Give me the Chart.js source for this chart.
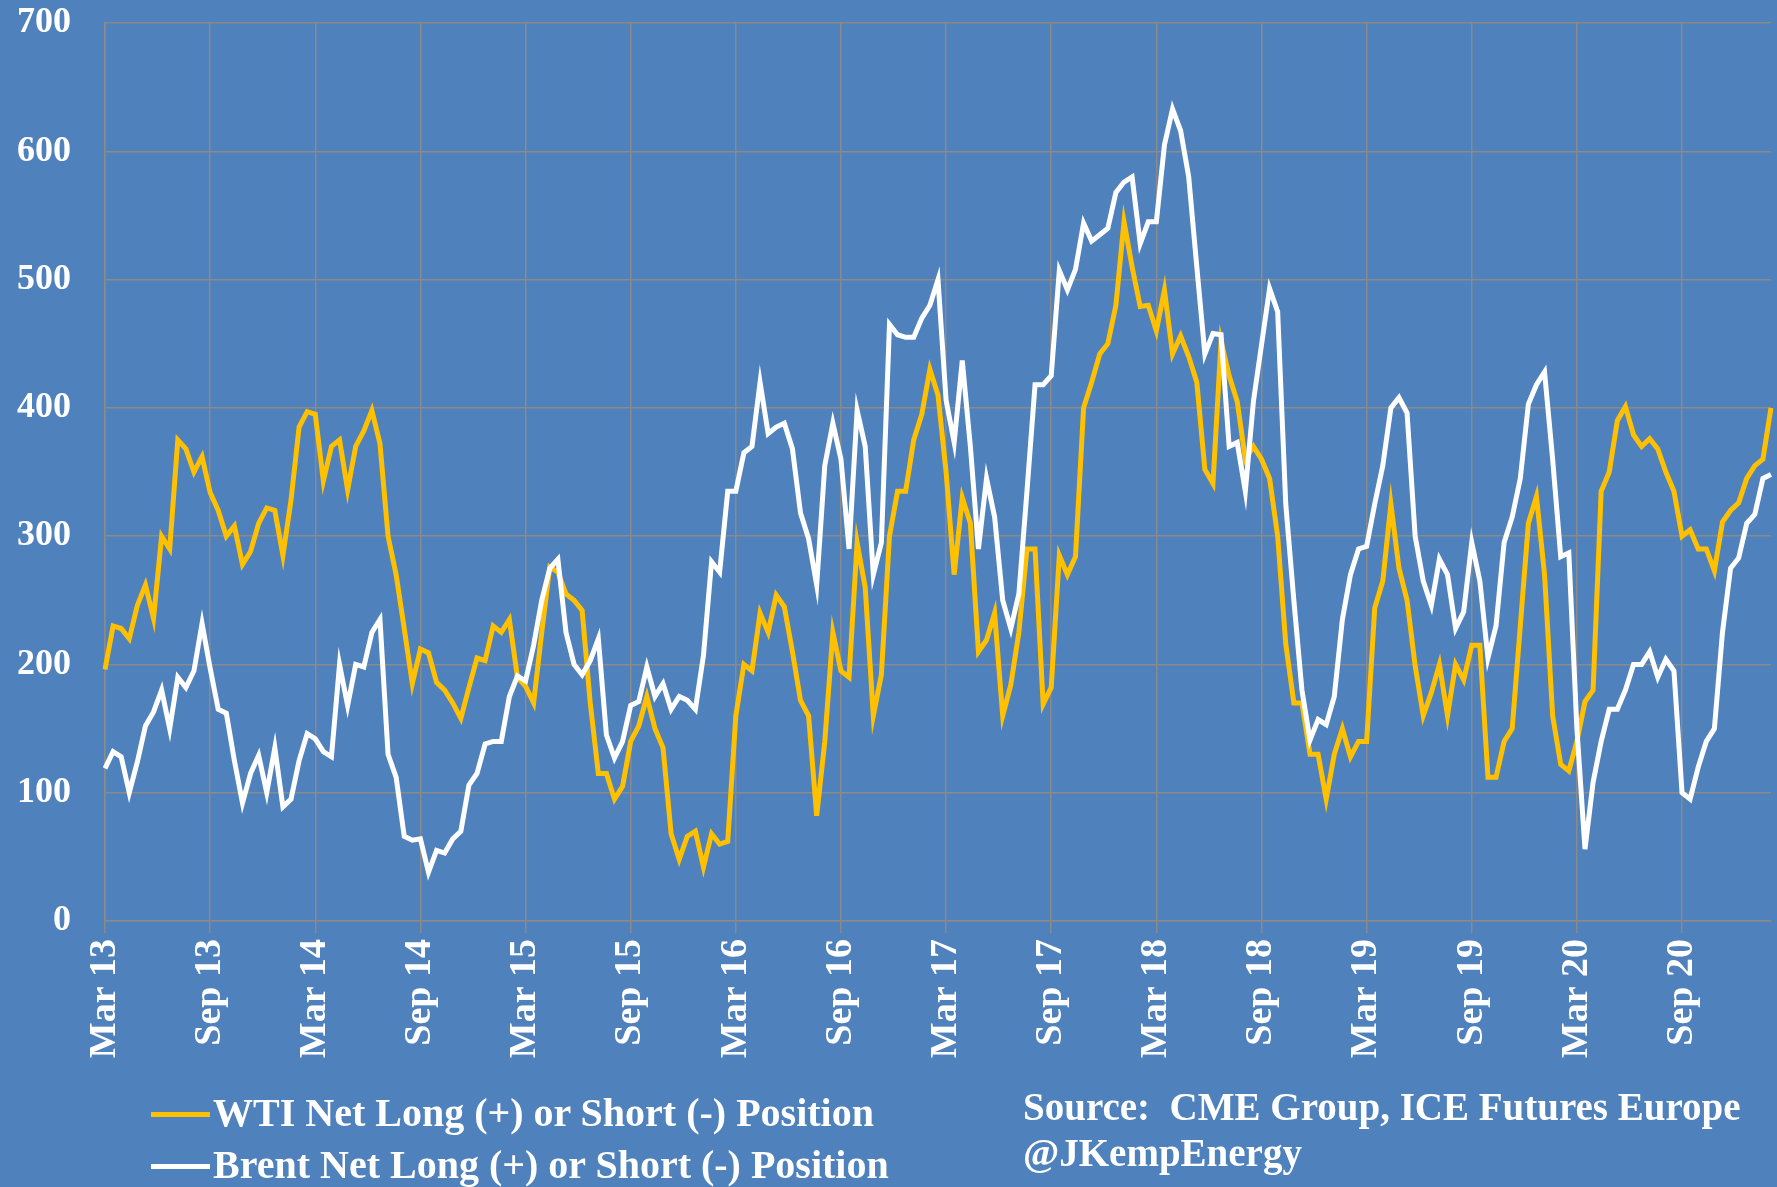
<!DOCTYPE html>
<html>
<head>
<meta charset="utf-8">
<script src="https://cdn.jsdelivr.net/npm/chart.js@4"></script>
<style>
    html, body { margin: 0; padding: 0; background: #4f81bd; overflow: hidden; }
    #wrap { position: relative; width: 1777px; height: 1187px; }
    #positions_chart { position: absolute; left: 0; top: 0; }
    .note { position: absolute; color: #fff; font-family: 'Liberation Serif', 'DejaVu Serif', serif; font-size: 39px; font-weight: bold; line-height: 1; white-space: nowrap; }
    .legend { font-size: 40px; }
    .key { display: inline-block; width: 59px; height: 5px; vertical-align: middle; margin-right: 3px; position: relative; top: -2px; }
</style>
</head>
<body>
<div id="wrap">
    <canvas id="positions_chart" width="1777" height="1187"></canvas>
    <div class="note legend" style="left:151px; top:1093px;"><span class="key" style="background:#ffc000"></span>WTI Net Long (+) or Short (-) Position</div>
    <div class="note legend" style="left:151px; top:1145px;"><span class="key" style="background:#ffffff"></span>Brent Net Long (+) or Short (-) Position</div>
    <div class="note" style="left:1023px; top:1087px;">Source:&nbsp; CME Group, ICE Futures Europe</div>
    <div class="note" style="left:1023px; top:1133px;">@JKempEnergy</div>
</div>
<script>
// fortnightly readings, Mar 2013 to early 2021 (million barrels)
const tickLabels = ['Mar 13', 'Sep 13', 'Mar 14', 'Sep 14', 'Mar 15', 'Sep 15', 'Mar 16', 'Sep 16',
    'Mar 17', 'Sep 17', 'Mar 18', 'Sep 18', 'Mar 19', 'Sep 19', 'Mar 20', 'Sep 20'];
const pointsPerTick = 13;

const wtiValues = [
    196, 230, 228, 220, 246, 262, 236, 300, 290, 375, 368, 350, 362, 334, 320, 300, 308, 278, 288, 310, 322, 320, 285, 328, 385, 397,
    395, 343, 370, 375, 336, 370, 382, 398, 372, 300, 270, 228, 185, 212, 209, 186, 180, 170, 158, 182, 205, 203, 230, 225, 235, 190,
    183, 170, 225, 276, 272, 255, 250, 242, 170, 115, 115, 95, 105, 140, 152, 175, 150, 135, 68, 48, 66, 70, 42, 68, 60, 62,
    160, 200, 195, 240, 225, 254, 245, 210, 172, 160, 82, 140, 225, 195, 190, 295, 260, 160, 192, 300, 335, 335, 375, 395, 430, 410,
    350, 270, 330, 310, 210, 219, 240, 160, 184, 225, 290, 290, 169, 182, 285, 270, 284, 400, 420, 442, 450, 480, 545, 510, 479, 480,
    460, 492, 442, 456, 440, 420, 352, 341, 452, 425, 405, 360, 370, 360, 345, 300, 216, 170, 170, 130, 130, 95, 130, 150, 128, 140,
    140, 244, 265, 325, 275, 250, 199, 160, 178, 200, 160, 200, 188, 215, 215, 112, 112, 140, 150, 230, 310, 331, 270, 160, 122, 117,
    140, 171, 180, 335, 350, 390, 401, 379, 370, 376, 368, 350, 335, 300, 305, 290, 290, 273, 311, 320, 326, 345, 355, 360, 400
];

const brentValues = [
    119, 132, 128, 100, 124, 152, 163, 180, 150, 190, 182, 195, 232, 197, 165, 162, 125, 92, 115, 129, 100, 135, 89, 95, 125, 146,
    142, 132, 128, 200, 168, 200, 198, 225, 235, 130, 112, 66, 63, 64, 38, 55, 53, 64, 70, 106, 115, 138, 140, 140, 175, 191,
    187, 215, 250, 275, 282, 225, 200, 192, 203, 220, 145, 127, 140, 168, 171, 198, 175, 185, 165, 175, 172, 165, 207, 280, 272, 335,
    335, 365, 370, 420, 380, 385, 388, 368, 318, 298, 262, 355, 388, 360, 290, 398, 370, 270, 295, 465, 457, 455, 455, 470, 480, 500,
    406, 373, 437, 370, 290, 345, 315, 250, 228, 255, 335, 418, 418, 425, 507, 492, 508, 544, 530, 535, 540, 568, 576, 580, 528, 545,
    545, 605, 633, 616, 580, 510, 442, 458, 457, 370, 373, 335, 405, 449, 493, 475, 325, 250, 180, 141, 157, 153, 175, 235, 270, 290,
    292, 325, 355, 400, 408, 396, 300, 265, 246, 282, 270, 228, 241, 295, 265, 205, 230, 295, 315, 345, 403, 418, 428, 360, 284, 287,
    150, 56, 108, 140, 165, 165, 180, 200, 200, 210, 190, 204, 195, 100, 95, 120, 140, 150, 225, 275, 283, 310, 317, 345, 348
];

document.addEventListener('DOMContentLoaded', function () {
    const ctx = document.getElementById('positions_chart').getContext('2d');
    const gridColor = '#8a8a8a';
    const tickFont = { family: "'Liberation Serif', 'DejaVu Serif', serif", weight: 'bold' };

    // only every 13th fortnight carries a label (Mar / Sep)
    const labels = wtiValues.map((v, i) => i % pointsPerTick === 0 ? tickLabels[i / pointsPerTick] : '');

    new Chart(ctx, {
        type: 'line',
        data: {
            labels: labels,
            datasets: [
                {
                    label: 'WTI Net Long (+) or Short (-) Position',
                    data: wtiValues,
                    borderColor: '#ffc000',
                    borderWidth: 5,
                    pointRadius: 0,
                    tension: 0,
                    order: 2
                },
                {
                    label: 'Brent Net Long (+) or Short (-) Position',
                    data: brentValues,
                    borderColor: '#ffffff',
                    borderWidth: 5,
                    pointRadius: 0,
                    tension: 0,
                    order: 1
                }
            ]
        },
        options: {
            responsive: false,
            animation: false,
            layout: { padding: { top: 23, right: 6, left: 0, bottom: 0 } },
            plugins: {
                legend: { display: false },
                tooltip: { enabled: false }
            },
            scales: {
                x: {
                    offset: false,
                    grid: { color: gridColor, lineWidth: 1.5, tickLength: 12 },
                    border: { color: gridColor, width: 1.5 },
                    ticks: {
                        autoSkip: false,
                        maxRotation: 90,
                        minRotation: 90,
                        padding: 6,
                        color: '#ffffff',
                        font: Object.assign({ size: 38 }, tickFont),
                        callback: function (value) {
                            const l = this.getLabelForValue(value);
                            return l === '' ? null : l;
                        }
                    },
                    afterFit: function (scale) { scale.height = 266; }
                },
                y: {
                    min: 0,
                    max: 700,
                    grid: { color: gridColor, lineWidth: 1.5, drawTicks: false },
                    border: { color: gridColor, width: 1.5 },
                    ticks: {
                        stepSize: 100,
                        padding: 34,
                        color: '#ffffff',
                        font: Object.assign({ size: 36 }, tickFont)
                    },
                    afterFit: function (scale) {
                        scale.width = 105;
                        scale.paddingTop = 0;
                        scale.paddingBottom = 0;
                    }
                }
            }
        }
    });
});
</script>
</body>
</html>
